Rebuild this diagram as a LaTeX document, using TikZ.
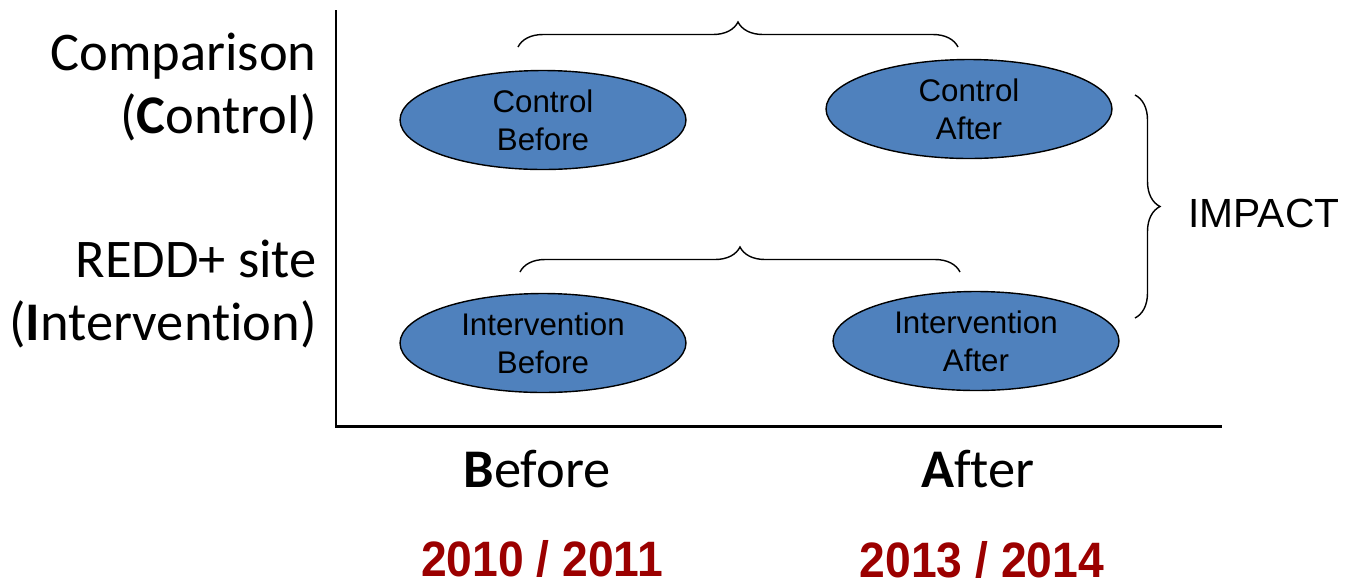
\documentclass[tikz,border=0pt]{standalone}
\usepackage{fontspec}
\usepackage{xcolor}
\usepackage{tikz}
\usetikzlibrary{shapes.geometric,decorations.pathreplacing}
\setmainfont{Carlito}[Ligatures=NoCommon]
\newfontfamily\ovalfont{Liberation Sans}
\newfontfamily\yearfont[FakeStretch=0.93]{Liberation Sans}
\definecolor{ovalblue}{RGB}{79,129,189}
\definecolor{yearred}{RGB}{155,0,0}
\newcommand{\bigtext}{\fontsize{31pt}{35.7pt}\selectfont}

\begin{document}
\begin{tikzpicture}[
  x=0.02cm, y=-0.02cm,
  oval/.style={ellipse, draw, line width=0.8pt, fill=ovalblue, inner sep=0pt,
    minimum width=5.72cm, minimum height=1.98cm,
    align=center, font=\ovalfont\fontsize{17.8pt}{21.5pt}\selectfont},
  axislabel/.style={font=\bigtext, align=right, anchor=east, inner sep=0pt},
  timelabel/.style={font=\bigtext, inner sep=0pt},
  year/.style={font=\yearfont\bfseries\fontsize{28.3pt}{30pt}\selectfont,
    text=yearred, inner sep=0pt},
  bracket/.style={decorate, decoration={brace, amplitude=0.5cm}, line width=0.8pt}
]
\useasboundingbox (0,0) rectangle (1346,586);

% Axes
\draw[line width=1.7pt] (336,10) -- (336,426) -- (1222,426);

% Groups
\node[axislabel] (comp) at (317,87) {Comparison\\(\textbf{C}ontrol)};
\node[axislabel] (redd) at (317,294) {REDD+ site\\(\textbf{I}ntervention)};

% Periods
\node[timelabel] (before) at (537,469) {\textbf{B}efore};
\node[timelabel] (after) at (978,469) {\textbf{A}fter};
\node[year] (ybefore) at (542,559) {2010 / 2011};
\node[year] (yafter) at (982,560) {2013 / 2014};

% Cells
\node[oval] (CB) at (543,120) {Control\\Before};
\node[oval] (CA) at (969,109) {Control\\After};
\node[oval] (IB) at (543,343) {Intervention\\Before};
\node[oval] (IA) at (976,341) {Intervention\\After};

% Braces
\draw[bracket] (518,47) -- (958,47);
\draw[bracket] (520,272) -- (960,272);
\draw[bracket] (1135,95) -- (1135,318);
\node[font=\ovalfont\fontsize{23.2pt}{26pt}\selectfont, inner sep=0pt] (impact)
  at (1264,213) {IMPACT};

\end{tikzpicture}
\end{document}
